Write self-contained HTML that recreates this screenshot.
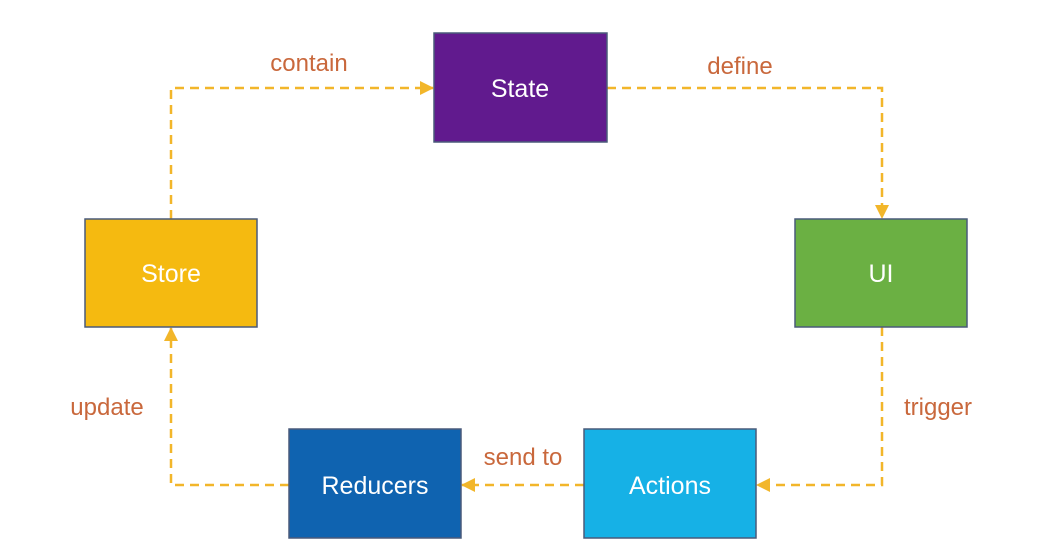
<!DOCTYPE html>
<html><head><style>
body{margin:0;width:1050px;height:553px;background:#fff;overflow:hidden;font-family:"Liberation Sans",sans-serif}
</style></head><body>
<svg width="1050" height="553" xmlns="http://www.w3.org/2000/svg">
<defs><marker id="a" markerWidth="14" markerHeight="14" refX="13" refY="7" orient="auto" markerUnits="userSpaceOnUse"><path d="M0,0 L14,7 L0,14 z" fill="#F2B62A"/></marker></defs>
<g fill="none" stroke="#F2B62A" stroke-width="2.5" stroke-dasharray="9,6">
<polyline points="171,219 171,88 433,88" marker-end="url(#a)"/>
<polyline points="607,88 882,88 882,218" marker-end="url(#a)"/>
<polyline points="882,327 882,485 757,485" marker-end="url(#a)"/>
<polyline points="584,485 462,485" marker-end="url(#a)"/>
<polyline points="289,485 171,485 171,328" marker-end="url(#a)"/>
</g>
<g stroke="#4a5a7a" stroke-width="1.5">
<rect x="434" y="33" width="173" height="109" fill="#611A8E"/>
<rect x="85" y="219" width="172" height="108" fill="#F5BA10"/>
<rect x="795" y="219" width="172" height="108" fill="#6BB043"/>
<rect x="289" y="429" width="172" height="109" fill="#0F63B0"/>
<rect x="584" y="429" width="172" height="109" fill="#16B1E6"/>
</g>
<g fill="#fff" font-size="25" text-anchor="middle" font-family="Liberation Sans, sans-serif">
<text x="520" y="97">State</text>
<text x="171" y="282">Store</text>
<text x="881" y="282">UI</text>
<text x="375" y="494">Reducers</text>
<text x="670" y="494">Actions</text>
</g>
<g fill="#C9683C" font-size="24" text-anchor="middle" font-family="Liberation Sans, sans-serif">
<text x="309" y="71">contain</text>
<text x="740" y="74">define</text>
<text x="938" y="415">trigger</text>
<text x="107" y="415">update</text>
<text x="523" y="465">send to</text>
</g>
</svg>
</body></html>
